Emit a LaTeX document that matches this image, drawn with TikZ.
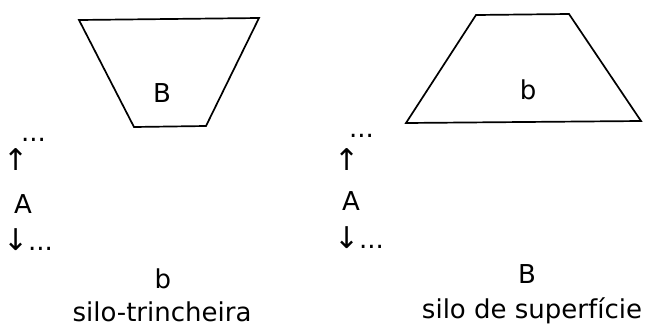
\documentclass[tikz,border=0pt]{standalone}
\usepackage{fontspec}
\setmainfont{DejaVu Sans}
\newcommand{\arrowfont}{\fontsize{30}{30}\selectfont}
\begin{document}
\begin{tikzpicture}[x=1pt,y=-1pt,
  lbl/.style={inner sep=0pt,outer sep=0pt,anchor=base,font=\fontsize{26}{30}\selectfont},
  lblw/.style={lbl,anchor=base west},
  arr/.style={inner sep=0pt,outer sep=0pt,font=\arrowfont},
  silo/.style={draw,line width=1.7pt,line join=miter}]
\useasboundingbox (0,0) rectangle (646,327);
% left: silo-trincheira
\draw[silo] (79,20) -- (259,18) -- (206,126) -- (134,127) -- cycle;
\node[lbl] (lB) at (162,102) {B};
\node[lblw] (ldotsup) at (21,141) {...};
\node[arr] (luparrow) at (16,160) {↑};
\node[lbl] (lA) at (23,213) {A};
\node[lblw] (ldown) at (3,250) {{\arrowfont ↓}...};
\node[lbl] (lb) at (163,288) {b};
\node[lbl] (lname) at (162,321) {silo-trincheira};
% right: silo de superficie
\draw[silo] (476,15) -- (569,14) -- (641,121) -- (406,123) -- cycle;
\node[lbl] (rb) at (528,99) {b};
\node[lblw] (rdotsup) at (349,137) {...};
\node[arr] (ruparrow) at (347,160) {↑};
\node[lbl] (rA) at (351,210) {A};
\node[lblw] (rdown) at (334,248) {{\arrowfont ↓}...};
\node[lbl] (rB) at (527,283) {B};
\node[lbl] (rname) at (532,318) {silo de superfície};
\end{tikzpicture}
\end{document}
